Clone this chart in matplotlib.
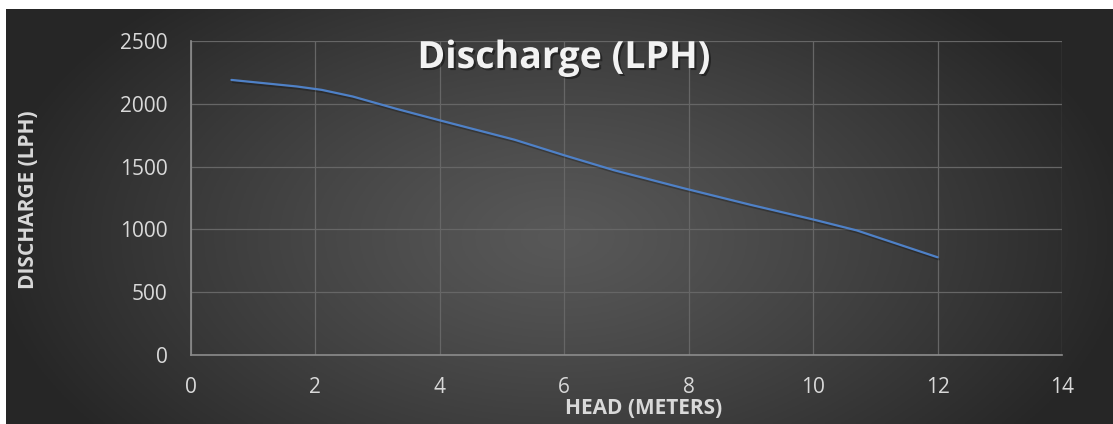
import numpy as np
import matplotlib
matplotlib.use("Agg")
import matplotlib.pyplot as plt
import matplotlib.patheffects as pe

# values
head_m = [0.65, 1.7, 2.1, 2.6, 3.3, 4.0, 5.2, 6.0, 6.8, 7.9, 9.0, 10.0, 10.7, 12.0]
discharge_lph = [2190, 2138, 2111, 2058, 1960, 1868, 1714, 1590, 1471, 1330, 1195, 1079, 992, 778]

x_ticks = [0, 2, 4, 6, 8, 10, 12, 14]
y_ticks = [0, 500, 1000, 1500, 2000, 2500]

W, H = 1113, 424
plt.rcParams['font.family'] = ['Open Sans', 'DejaVu Sans']

fig = plt.figure(figsize=(W / 100, H / 100), dpi=100)
fig.patch.set_facecolor("white")

# dark radial gradient background (white margin top / left like the reference)
bg = fig.add_axes([6 / W, 0, (W - 6) / W, (H - 9) / H])
gx, gy = np.meshgrid(np.linspace(0, 1, 400), np.linspace(0, 1, 200))
r = np.sqrt(((gx - 0.5) / 0.52) ** 2 + ((gy - 0.55) / 0.8) ** 2)
r = np.clip(r, 0, 1)
shade = 0.345 - 0.195 * r ** 1.2
bg.imshow(np.dstack([shade, shade, shade]), aspect="auto", extent=[0, 1, 0, 1])
bg.axis("off")
bg.set_zorder(0)

ax = fig.add_axes([191 / W, (H - 355) / H, (1062 - 191) / W, (355 - 41) / H])
ax.set_zorder(1)
ax.patch.set_alpha(0)

ax.plot(head_m, discharge_lph, color="#4f81c7", lw=1.6, solid_capstyle="round",
        path_effects=[pe.SimpleLineShadow(offset=(1, -1.5), shadow_color="black", alpha=0.25),
                      pe.Normal()])

ax.set_xlim(0, 14)
ax.set_ylim(0, 2500)
ax.set_xticks(x_ticks)
ax.set_yticks(y_ticks)
ax.grid(True, color="#666666", lw=0.9)
ax.set_axisbelow(True)
ax.tick_params(length=0, colors="#d9d9d9", labelsize=15)
ax.tick_params(axis="x", pad=16)
ax.tick_params(axis="y", pad=17)
for s in ["top", "right"]:
    ax.spines[s].set_visible(False)
for s in ["left", "bottom"]:
    ax.spines[s].set_color("#8c8c8c")
    ax.spines[s].set_linewidth(1.2)

fig.text(29 / W, 1 - 200 / H, "DISCHARGE (LPH)", rotation=90, ha="center", va="center",
         color="#d9d9d9", fontsize=15, fontweight="bold")
fig.text(644 / W, 1 - 409 / H, "HEAD (METERS)", ha="center", va="center",
         color="#d9d9d9", fontsize=15, fontweight="bold")

fig.text(564 / W, 1 - 58 / H, "Discharge (LPH)", ha="center", va="center",
         color="#f2f2f2", fontsize=27, fontweight="bold",
         path_effects=[pe.withSimplePatchShadow(offset=(1.5, -1.5), shadow_rgbFace="black", alpha=0.4)])

fig.savefig("out.png", dpi=100)
